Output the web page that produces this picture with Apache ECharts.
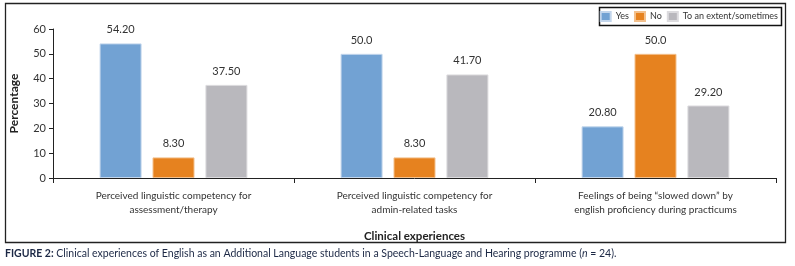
<!DOCTYPE html>
<html>
<head>
<meta charset="utf-8">
<script src="https://cdn.jsdelivr.net/npm/echarts@6/dist/echarts.min.js"></script>
<style>
  html, body { margin: 0; padding: 0; background: #fff; }
  #chart { width: 795px; height: 266px; }
</style>
</head>
<body>
<div id="chart"></div>
<script>
const categories = [
  'Perceived linguistic competency for\nassessment/therapy',
  'Perceived linguistic competency for\nadmin-related tasks',
  'Feelings of being \u201cslowed down\u201d by\nenglish proficiency during practicums'
]
const seriesNames = ['Yes', 'No', 'To an extent/sometimes']
const yesValues = [54.2, 50.0, 20.8]
const noValues = [8.3, 8.3, 50.0]
const extentValues = [37.5, 41.7, 29.2]
const yesLabels = ['54.20', '50.0', '20.80']
const noLabels = ['8.30', '8.30', '50.0']
const extentLabels = ['37.50', '41.70', '29.20']
const yTicks = [0, 10, 20, 30, 40, 50, 60]

const colors = ['#72a2d3', '#e6821f', '#b9b8bd']
const edges = ['#c3d6ec', '#f3c08c', '#dcdbde']
const font = 'Lato, "Noto Sans", sans-serif'
const textColor = '#333'

const chart = echarts.init(document.getElementById('chart'))

const makeSeries = (name, values, labels, i) => ({
  name,
  type: 'bar',
  barWidth: 42,
  barGap: '26%',
  data: values,
  itemStyle: { color: colors[i], borderColor: edges[i], borderWidth: 1 },
  label: {
    show: true,
    position: 'top',
    distance: 8,
    color: textColor,
    fontFamily: font,
    fontSize: 11,
    formatter: (p) => labels[p.dataIndex]
  }
})

chart.setOption({
  animation: false,
  textStyle: { fontFamily: font },
  grid: { left: 52, right: 19, top: 29, bottom: 88 },
  legend: {
    data: seriesNames,
    orient: 'horizontal',
    right: 17,
    top: 11,
    itemWidth: 10,
    itemHeight: 9,
    itemGap: 5,
    padding: 0,
    icon: 'rect',
    textStyle: { color: textColor, fontSize: 9, fontFamily: font }
  },
  xAxis: {
    type: 'category',
    data: categories,
    name: 'Clinical experiences',
    nameLocation: 'middle',
    nameGap: 52,
    nameTextStyle: { fontWeight: 'bold', fontSize: 11.5, color: '#222', fontFamily: font },
    axisLine: { lineStyle: { color: '#222', width: 1 } },
    axisTick: { show: true, length: 5, lineStyle: { color: '#222' } },
    axisLabel: { color: textColor, fontSize: 10, lineHeight: 14, margin: 11, fontFamily: font }
  },
  yAxis: {
    type: 'value',
    min: yTicks[0],
    max: yTicks[yTicks.length - 1],
    interval: 10,
    name: 'Percentage',
    nameLocation: 'middle',
    nameRotate: 90,
    nameGap: 33,
    nameTextStyle: { fontWeight: 'bold', fontSize: 12, color: '#222', fontFamily: font },
    splitLine: { show: false },
    axisLine: { show: true, lineStyle: { color: '#222', width: 1 } },
    axisTick: { show: true, length: 4, lineStyle: { color: '#222' } },
    axisLabel: { color: textColor, fontSize: 11, margin: 7, fontFamily: font }
  },
  series: [
    makeSeries(seriesNames[0], yesValues, yesLabels, 0),
    makeSeries(seriesNames[1], noValues, noLabels, 1),
    makeSeries(seriesNames[2], extentValues, extentLabels, 2)
  ],
  graphic: [
    {
      type: 'rect',
      shape: { x: 5.5, y: 3.5, width: 780, height: 239 },
      style: { fill: 'none', stroke: '#222', lineWidth: 1.3 },
      silent: true
    },
    {
      type: 'rect',
      shape: { x: 599.5, y: 7.5, width: 182, height: 18 },
      style: { fill: 'none', stroke: '#111', lineWidth: 1.5 },
      silent: true
    },
    {
      type: 'text',
      left: 5,
      top: 248,
      style: {
        text: '{b|FIGURE 2:} Clinical experiences of English as an Additional Language students in a Speech-Language and Hearing programme ({i|n} = 24).',
        fontFamily: font,
        fontSize: 10.5,
        fill: '#1c2845',
        rich: {
          b: { fontWeight: 'bold', fontSize: 10.5, fontFamily: font, fill: '#1c2845' },
          i: { fontStyle: 'italic', fontSize: 10.5, fontFamily: font, fill: '#1c2845' }
        }
      }
    }
  ]
})
</script>
</body>
</html>
